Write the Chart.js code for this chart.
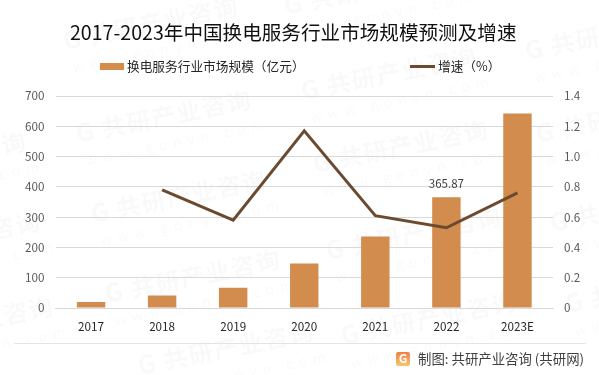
<!DOCTYPE html>
<html>
<head>
<meta charset="utf-8">
<style>
html, body { margin: 0; padding: 0; background: #fff; }
canvas { display: block; }
</style>
<script src="https://cdn.jsdelivr.net/npm/chart.js@4/dist/chart.umd.min.js"></script>
</head>
<body>
<canvas id="chart" width="599" height="375"></canvas>
<script>
var categories = ["2017", "2018", "2019", "2020", "2021", "2022", "2023E"];
var marketSize = [20, 41, 67, 147, 236, 365.87, 642];
var growthRate = [null, 0.78, 0.58, 1.17, 0.61, 0.53, 0.76];

var titleText = "2017-2023年中国换电服务行业市场规模预测及增速";
var sizeLabel = "换电服务行业市场规模（亿元）";
var growthLabel = "增速（%）";
var footerText = "制图: 共研产业咨询 (共研网)";
var markText = "共研产业咨询";
var markUrl = "www.gonyn.com";
var markSpots = [[65,50],[286,15],[527,60],[303,100],[78,143],[538,143],[315,173],[-147,185],[93,223],[552,232],[-133,265],[328,260],[107,303],[567,313],[343,345],[-120,350],[140,375]];

var cjk = '"Noto Sans CJK SC", "Noto Sans", sans-serif';
var barColor = "#d28c4e";
var lineColor = "#6b4a30";

// watermark, title, legend, footer and the one data label
var furniture = {
    id: "furniture",
    beforeDraw: function(chart) {
        var ctx = chart.ctx;
        ctx.save();
        ctx.fillStyle = "#fff";
        ctx.fillRect(0, 0, 599, 375);
        markSpots.forEach(function(p) {
            ctx.save();
            ctx.translate(p[0], p[1]);
            ctx.rotate(-0.2);
            ctx.fillStyle = "rgba(0,0,0,0.024)";
            ctx.textAlign = "left";
            ctx.textBaseline = "alphabetic";
            ctx.font = "bold 25px " + cjk;
            ctx.fillText("G", 0, 0);
            ctx.font = "bold 24px " + cjk;
            ctx.letterSpacing = "1.5px";
            ctx.fillText(markText, 26, 0);
            ctx.letterSpacing = "6px";
            ctx.font = "14px " + cjk;
            ctx.fillText(markUrl, 4, 24);
            ctx.restore();
        });
        ctx.restore();
    },
    afterDraw: function(chart) {
        var ctx = chart.ctx;
        ctx.save();
        ctx.textBaseline = "middle";
        ctx.textAlign = "left";

        ctx.fillStyle = "#111";
        ctx.font = "19.6px " + cjk;
        ctx.fillText(titleText, 70, 33);

        ctx.fillStyle = barColor;
        ctx.fillRect(100, 63, 24, 7);
        ctx.fillStyle = "#262626";
        ctx.font = "12.7px " + cjk;
        ctx.fillText(sizeLabel, 127, 66.5);
        ctx.fillStyle = lineColor;
        ctx.fillRect(410, 65, 25, 3);
        ctx.fillStyle = "#262626";
        ctx.fillText(growthLabel, 438, 66.5);

        var bars = chart.getDatasetMeta(1).data;
        ctx.textAlign = "center";
        ctx.fillStyle = "#404040";
        ctx.font = "11.5px " + cjk;
        ctx.fillText("365.87", bars[5].x, bars[5].y - 14);

        ctx.strokeStyle = "#e4e4e4";
        ctx.lineWidth = 1;
        ctx.beginPath();
        ctx.moveTo(14, 343.5);
        ctx.lineTo(586, 343.5);
        ctx.stroke();

        var g = ctx.createLinearGradient(396, 352, 396, 366);
        g.addColorStop(0, "#ef7f4a");
        g.addColorStop(1, "#f8c66a");
        ctx.fillStyle = g;
        ctx.beginPath();
        ctx.roundRect(396, 352, 14, 14, 2);
        ctx.fill();
        ctx.fillStyle = "#fff";
        ctx.font = "bold 12px " + cjk;
        ctx.fillText("G", 403, 358.5);

        ctx.textAlign = "left";
        ctx.fillStyle = "#404040";
        ctx.font = "13.4px " + cjk;
        ctx.fillText(footerText, 418, 358.5);
        ctx.restore();
    }
};

var viewport = document.getElementById("chart");
var ctx = viewport.getContext("2d");

var myChart = new Chart(ctx, {
    type: "bar",
    data: {
        labels: categories,
        datasets: [
            {
                type: "line",
                label: growthLabel,
                data: growthRate,
                yAxisID: "y1",
                borderColor: lineColor,
                borderWidth: 3,
                pointRadius: 0,
                tension: 0,
                order: 0
            },
            {
                label: sizeLabel,
                data: marketSize,
                yAxisID: "y",
                backgroundColor: barColor,
                barPercentage: 0.4,
                categoryPercentage: 1,
                order: 1
            }
        ]
    },
    options: {
        responsive: false,
        animation: false,
        layout: { padding: { top: 96 } },
        plugins: {
            legend: { display: false },
            title: { display: false },
            tooltip: { enabled: false }
        },
        scales: {
            x: {
                grid: { display: false },
                border: { color: "#d9d9d9" },
                ticks: { color: "#262626", padding: 4, font: { size: 11.7, family: cjk } },
                afterFit: function(s) { s.height = 67; }
            },
            y: {
                position: "left",
                min: 0,
                max: 700,
                ticks: { stepSize: 100, color: "#595959", padding: 11, font: { size: 11.7, family: cjk } },
                grid: { color: "#d9d9d9", drawTicks: false },
                border: { display: false },
                afterFit: function(s) { s.width = 55.5; }
            },
            y1: {
                position: "right",
                min: 0,
                max: 1.4,
                ticks: { stepSize: 0.2, color: "#595959", padding: 11, font: { size: 11.7, family: cjk } },
                grid: { display: false, drawTicks: false },
                border: { display: false },
                afterFit: function(s) { s.width = 46; }
            }
        }
    },
    plugins: [furniture]
});
</script>
</body>
</html>
